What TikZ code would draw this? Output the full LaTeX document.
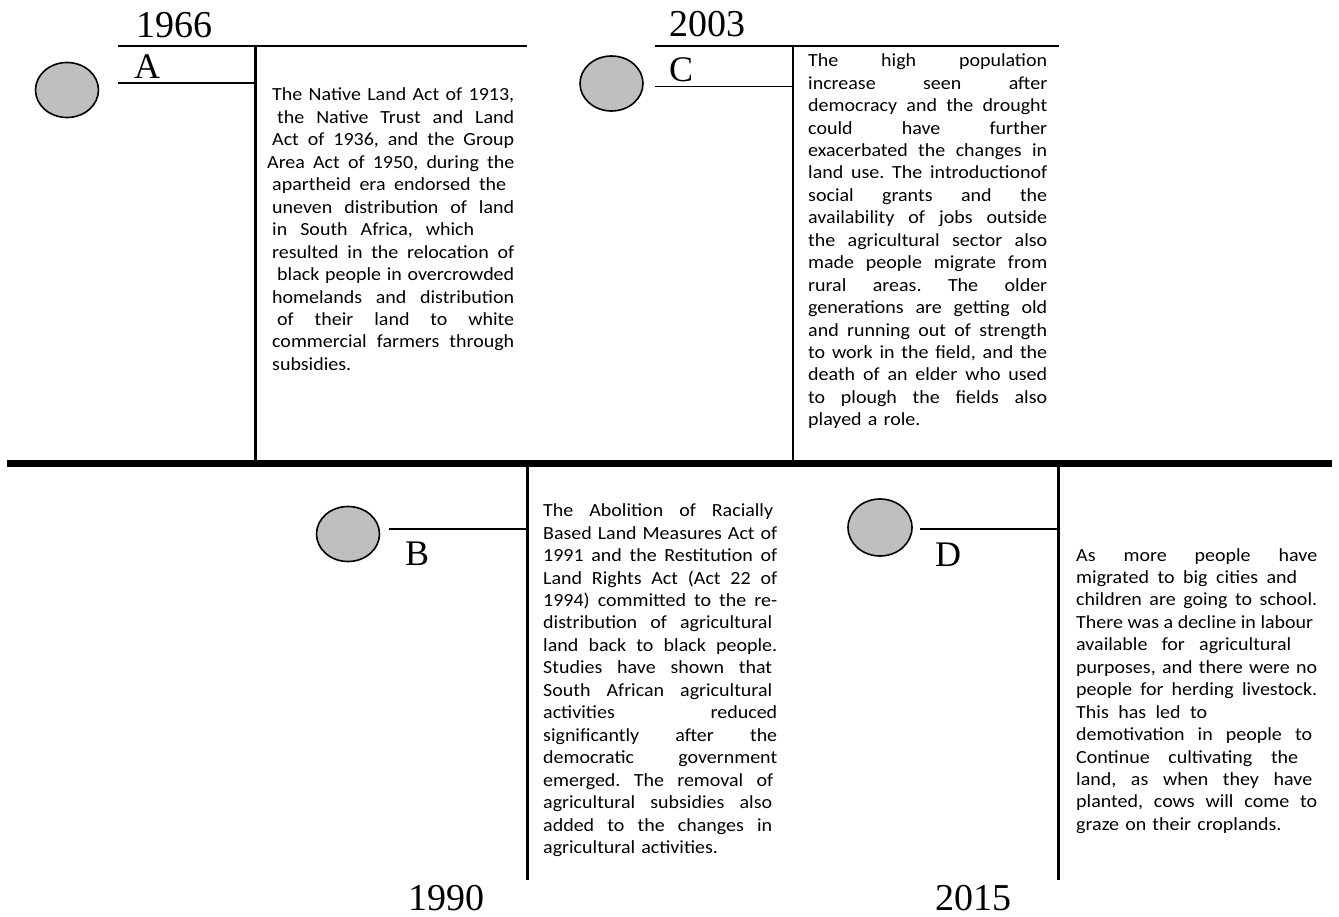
\documentclass[tikz,border=0pt]{standalone}
\usepackage{fontspec}
\setmainfont{Carlito}[FakeStretch=1.08]
\newfontfamily\yearfont{Liberation Serif}
\usetikzlibrary{shapes.geometric}

\definecolor{eventgray}{HTML}{BFBFBF}

% one justified line of a text block
\newcommand{\fullline}[2][\linewidth]{\makebox[#1][s]{\spaceskip=\fontdimen2\font plus 1fil\relax #2}}

\tikzset{
  event/.style={ellipse, draw=black, line width=1.6pt, fill=eventgray, minimum width=63pt, minimum height=55pt, inner sep=0pt},
  stem/.style={line width=2.2pt},
  rule/.style={line width=1.8pt},
  yearlabel/.style={font=\yearfont\fontsize{38}{40}\selectfont, anchor=base west, inner sep=0pt},
  letterlabel/.style={font=\yearfont\fontsize{36}{38}\selectfont, anchor=base west, inner sep=0pt},
  blurb/.style={font=\fontsize{18.5}{22.45}\selectfont\frenchspacing, anchor=base west, inner sep=0pt, text width=#1},
}

\begin{document}
\begin{tikzpicture}[x=1pt, y=-1pt]

\useasboundingbox (0,0) rectangle (1339,917);

% Define coordinates
\coordinate (lineStart) at (7,463.7);
\coordinate (lineEnd) at (1332,463.7);

\coordinate (topA) at (118,46);
\coordinate (topAEnd) at (527,46);
\coordinate (shortA) at (118,82.7);
\coordinate (stemATop) at (255.5,46);
\coordinate (stemAShort) at (255.5,82.7);
\coordinate (stemABottom) at (255.5,462);

\coordinate (topC) at (655,46);
\coordinate (topCEnd) at (1059,46);
\coordinate (shortC) at (655,86.5);
\coordinate (stemCTop) at (793,46);
\coordinate (stemCShort) at (793,86.5);
\coordinate (stemCBottom) at (793,462);

\coordinate (stemBTop) at (527.5,465);
\coordinate (stemBBottom) at (527.5,880);
\coordinate (armB) at (389,529.3);
\coordinate (stemBArm) at (527.5,529.3);

\coordinate (stemDTop) at (1058.5,465);
\coordinate (stemDBottom) at (1058.5,880);
\coordinate (armD) at (920,529.3);
\coordinate (stemDArm) at (1058.5,529.3);

% Main time line
\draw[line width=6.5pt] (lineStart) -- (lineEnd);

% Event A (above)
\draw[rule] (topA) -- (topAEnd);
\draw[rule] (shortA) -- (stemAShort);
\draw[stem] (stemATop) -- (stemABottom);
\node[event] (circA) at (67,90) {};
\node[yearlabel] (yearA) at (136,37.3) {1966};
\node[letterlabel] (letterA) at (134,78.3) {A};

% Event C (above)
\draw[rule] (topC) -- (topCEnd);
\draw[rule] (shortC) -- (stemCShort);
\draw[stem] (stemCTop) -- (stemCBottom);
\node[event] (circC) at (611.5,83.5) {};
\node[yearlabel] (yearC) at (669,36.7) {2003};
\node[letterlabel] (letterC) at (669,81.7) {C};

% Event B (below)
\draw[stem] (stemBTop) -- (stemBBottom);
\draw[rule] (armB) -- (stemBArm);
\node[event] (circB) at (348,534) {};
\node[letterlabel] (letterB) at (405,565.7) {B};
\node[yearlabel] (yearB) at (408.6,910.5) {1990};

% Event D (below)
\draw[stem] (stemDTop) -- (stemDBottom);
\draw[rule] (armD) -- (stemDArm);
\node[event, minimum width=64pt, minimum height=57pt] (circD) at (880,527.5) {};
\node[letterlabel] (letterD) at (935,566) {D};
\node[yearlabel] (yearD) at (935,910.5) {2015};

% Text blocks
\node[blurb=242pt] (textA) at (272,101) {%
\fullline{The Native Land Act of 1913,}\\
\fullline{\hspace*{5pt}the Native Trust and Land}\\
\fullline{Act of 1936, and the Group}\\
\fullline{\hspace*{-5pt}Area Act of 1950, during the}\\
\fullline[234pt]{apartheid era endorsed the}\\
\fullline{uneven distribution of land}\\
\fullline[202pt]{in South Africa, which}\\
\fullline{resulted in the relocation of}\\
\fullline{\hspace*{5pt}black people in overcrowded}\\
\fullline{homelands and distribution}\\
\fullline{\hspace*{5pt}of their land to white}\\
\fullline{commercial farmers through}\\
subsidies.};

\node[blurb=239pt] (textC) at (808,66.7) {%
\fullline{The high population}\\
\fullline{increase seen after}\\
\fullline{democracy and the drought}\\
\fullline{could have further}\\
\fullline{exacerbated the changes in}\\
\fullline{land use. The introductionof}\\
\fullline{social grants and the}\\
\fullline{availability of jobs outside}\\
\fullline{the agricultural sector also}\\
\fullline{made people migrate from}\\
\fullline{rural areas. The older}\\
\fullline{generations are getting old}\\
\fullline{and running out of strength}\\
\fullline{to work in the field, and the}\\
\fullline{death of an elder who used}\\
\fullline{to plough the fields also}\\
played a role.};

\node[blurb=234pt] (textB) at (543,516.7) {%
\fullline[230pt]{The Abolition of Racially}\\
\fullline{Based Land Measures Act of}\\
\fullline{1991 and the Restitution of}\\
\fullline{Land Rights Act (Act 22 of}\\
\fullline{1994) committed to the re-}\\
\fullline[229pt]{distribution of agricultural}\\
\fullline{land back to black people.}\\
\fullline[229pt]{Studies have shown that}\\
\fullline[229pt]{South African agricultural}\\
\fullline{activities reduced}\\
\fullline{significantly after the}\\
\fullline{democratic government}\\
\fullline[230pt]{emerged. The removal of}\\
\fullline[229pt]{agricultural subsidies also}\\
\fullline[229pt]{added to the changes in}\\
agricultural activities.};

\node[blurb=241pt] (textD) at (1076,561) {%
\fullline{As more people have}\\
\fullline[221pt]{migrated to big cities and}\\
\fullline{children are going to school.}\\
\fullline[237pt]{There was a decline in labour}\\
\fullline[215pt]{available for agricultural}\\
\fullline{purposes, and there were no}\\
\fullline{people for herding livestock.}\\
\fullline[131pt]{This has led to}\\
\fullline[236pt]{demotivation in people to}\\
\fullline[222pt]{Continue cultivating the}\\
\fullline[236pt]{land, as when they have}\\
\fullline{planted, cows will come to}\\
graze on their croplands.};

\end{tikzpicture}
\end{document}
